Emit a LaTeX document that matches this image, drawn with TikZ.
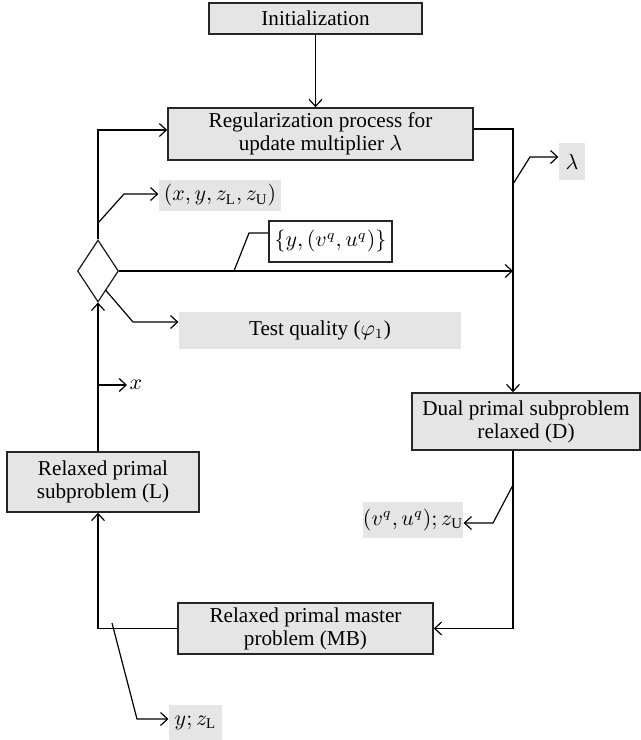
\documentclass[tikz,border=0pt]{standalone}
\usepackage{fontspec}
\setmainfont{Liberation Serif}
\usetikzlibrary{shapes.geometric,arrows.meta}
\tikzset{
  procbox/.style={draw=black!85,fill=black!10,line width=0.8pt,inner sep=0pt,align=center,font=\fontsize{10.6}{11.5}\selectfont},
  datalabel/.style={fill=black!10,inner sep=0pt,font=\fontsize{10.6}{11.5}\selectfont},
  databox/.style={draw=black!85,fill=white,line width=0.8pt,inner sep=0pt,font=\fontsize{10.6}{11.5}\selectfont},
  decision/.style={diamond,draw=black!90,line width=0.6pt,inner sep=0pt}
}
\begin{document}
\begin{tikzpicture}[x=0.5pt,y=-0.5pt,line width=0.6pt,>={Straight Barb[length=3.5pt,width=6.5pt]}]
			\useasboundingbox (0,0) rectangle (641,740);
			\node[procbox,minimum width=106.5pt,minimum height=15.5pt] (init) at (315.5,18.5) {Initialization};
			\node[procbox,minimum width=152.5pt,minimum height=26pt] (reg) at (320.5,134) {Regularization process for\\update multiplier $\lambda$};
			\node[procbox,minimum width=114pt,minimum height=28.5pt] (dual) at (526,421.5) {Dual primal subproblem\\relaxed (D)};
			\node[procbox,minimum width=96pt,minimum height=30pt] (relL) at (103,482) {Relaxed primal\\subproblem (L)};
			\node[procbox,minimum width=127.5pt,minimum height=25.5pt] (mb) at (305.5,628.5) {Relaxed primal master\\problem (MB)};
			\node[decision,minimum width=20.5pt,minimum height=31pt] (dia) at (98,271) {};
			\node[datalabel,minimum width=13pt,minimum height=18.5pt] (lam) at (572,161.5) {$\lambda$};
			\node[datalabel,minimum width=61pt,minimum height=15.5pt] (xyz) at (220,195.5) {$(x, y, z_{\mathrm{L}}, z_{\mathrm{U}})$};
			\node[databox,minimum width=61.5pt,minimum height=20.5pt] (yvu) at (330.5,241.5) {$\{y, (v^q, u^q)\}$};
			\node[datalabel,minimum width=141pt,minimum height=18.5pt] (test) at (320,330.5) {Test quality ($\varphi_1$)};
			\node[anchor=west,inner sep=1pt,font=\fontsize{10.6}{11.5}\selectfont] (xl) at (127,385) {$x$};
			\node[datalabel,minimum width=50pt,minimum height=18pt] (vuz) at (413,520) {$(v^q, u^q); z_{\mathrm{U}}$};
			\node[datalabel,minimum width=26.5pt,minimum height=17.5pt] (yz) at (195.5,722.5) {$y; z_{\mathrm{L}}$};
			\coordinate (rt) at (513,129);
			\coordinate (lp) at (98,130);
			\coordinate (lamfoot) at (513,184);
			\coordinate (lamknee) at (530,157);
			\coordinate (xyzfoot) at (98,223);
			\coordinate (xyzknee) at (124,194);
			\coordinate (yvufoot) at (234,271);
			\coordinate (yvuknee) at (249,233);
			\coordinate (testfoot) at (105.5,290);
			\coordinate (testknee) at (133,322);
			\coordinate (xfoot) at (98,385);
			\coordinate (vuzfoot) at (513,485);
			\coordinate (vuzknee) at (493,523);
			\coordinate (yzfoot) at (112,623);
			\coordinate (yzknee) at (137,719);
			\draw[->] (init) -- (init |- reg.north);
			\draw[->] (dia.north) -- (lp) -- (lp -| reg.west);
			\draw[->] (reg.east |- rt) -- (rt) -- (rt |- dual.north);
			\draw[->] (lamfoot) -- (lamknee) -- (lamknee -| lam.west);
			\draw[->] (xyzfoot) -- (xyzknee) -- (xyzknee -| xyz.west);
			\draw[->] (dia.east) -- (dia.east -| rt);
			\draw (yvufoot) -- (yvuknee) -- (yvuknee -| yvu.west);
			\draw[->] (testfoot) -- (testknee) -- (testknee -| test.west);
			\draw[->] (xfoot) -- (xl.west);
			\draw[->] (dia.south |- relL.north) -- (dia.south);
			\draw[->] (rt |- dual.south) |- (mb.east);
			\draw[->] (vuzfoot) -- (vuzknee) -- (vuzknee -| vuz.east);
			\draw[->] (mb.west) -| (dia.south |- relL.south);
			\draw[->] (yzfoot) -- (yzknee) -- (yzknee -| yz.west);
		\end{tikzpicture}
\end{document}
